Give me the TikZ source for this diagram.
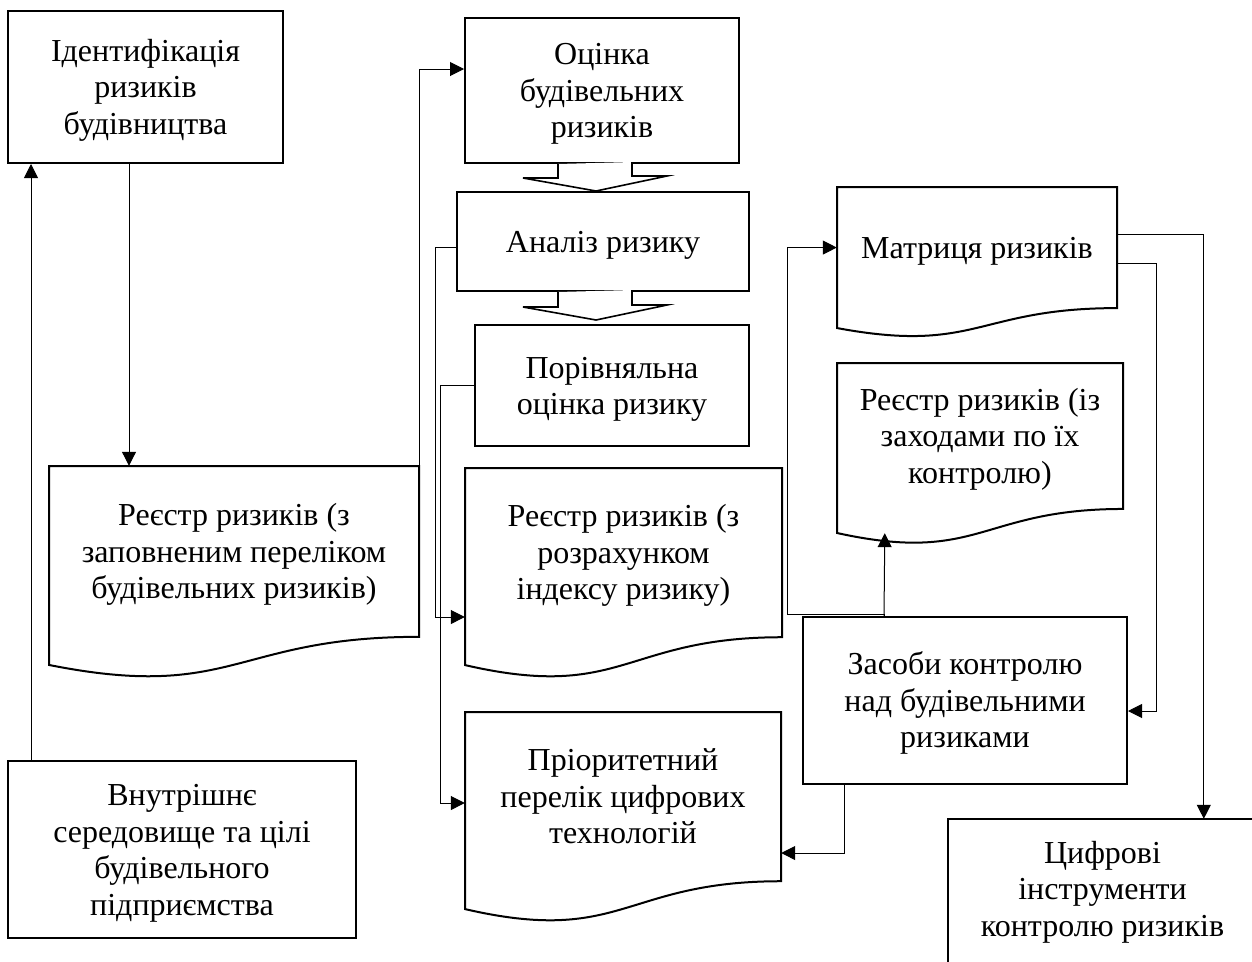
\documentclass[tikz,border=0pt]{standalone}
\usepackage{fontspec}
\setmainfont{Liberation Serif}
\usetikzlibrary{arrows.meta}
\newcommand\sT{\rule[-7pt]{0pt}{35.5pt}}
\newcommand\mydoc[6]{%
  \draw[boxline] (#2,#3) -- (#4,#3) -- (#4,{#3+0.802*#5})
    .. controls ({(#2+#4)/2},{#3+0.802*#5}) and ({(#2+#4)/2},{#3+1.107*#5}) .. (#2,{#3+0.934*#5}) -- cycle;
  \node[txt, minimum width={#4-#2}, minimum height={0.802*#5}] (#1) at ({(#2+#4)/2},{#3+0.401*#5}) {#6};
}
\begin{document}
\begin{tikzpicture}[x=1pt,y=-1pt,
  boxline/.style={line width=2pt, line join=miter},
  txt/.style={inner sep=0pt, align=center, font=\fontsize{32}{36.5}\selectfont},
  rect/.style={txt, draw, line width=2pt},
  conn/.style={line width=1pt, -{Triangle[length=14pt,width=14pt]}},
  plainline/.style={line width=1pt},
  hollow/.style={line width=1.6pt, fill=white, line join=miter}]
\clip (0,0) rectangle (1252,961);
\fill[white] (0,0) rectangle (1252,961);

% rectangles
\node[rect, minimum width=275, minimum height=152] (ident) at (145.5,87) {\sT Ідентифікація\\ризиків\\будівництва\sT};
\node[rect, minimum width=274, minimum height=145] (ocinka) at (602,90.5) {\sT Оцінка\\будівельних\\ризиків\sT};
\node[rect, minimum width=292, minimum height=99] (analiz) at (603,241.5) {\sT Аналіз ризику\sT};
\node[rect, minimum width=274, minimum height=121] (porivn) at (612,385.5) {\sT Порівняльна\\оцінка ризику\sT};
\node[rect, minimum width=348, minimum height=177] (vnutr) at (182,849.5) {\sT Внутрішнє\\середовище та цілі\\будівельного\\підприємства\sT};
\node[rect, minimum width=324, minimum height=167] (zasoby) at (965,700.5) {\sT Засоби контролю\\над будівельними\\ризиками\sT};
\node[txt, minimum width=309, minimum height=140] (cyfr) at (1102.5,889) {\sT Цифрові\\інструменти\\контролю ризиків\sT};
\draw[boxline] ([yshift=-20pt]cyfr.south west) -- (cyfr.north west) -- (cyfr.north east) -- ([yshift=-20pt]cyfr.south east);

% documents
\mydoc{reestr1}{49}{466}{419}{213}{\sT Реєстр ризиків (з\\заповненим переліком\\будівельних ризиків)\sT}
\mydoc{reestr2}{465}{468}{782}{211}{\sT Реєстр ризиків (з\\розрахунком\\індексу ризику)\sT}
\mydoc{priorit}{465}{712}{781}{211}{\sT Пріоритетний\\перелік цифрових\\технологій\sT}
\mydoc{matr}{837}{187}{1117}{151}{\sT Матриця ризиків\sT}
\mydoc{reestr3}{837}{363}{1123}{182}{\sT Реєстр ризиків (із\\заходами по їх\\контролю)\sT}

% hollow block arrows
\draw[hollow] ([xshift=-44pt]ocinka.south) -- ++(0,14) -- ++(-35,0) -- ([xshift=-7pt]analiz.north) -- ++(71,-15) -- ++(-35,0) -- ++(0,-14);
\draw[hollow] ([xshift=-45pt]analiz.south) -- ++(0,15) -- ++(-35,0) -- ([xshift=-16pt,yshift=4pt]porivn.north) -- ++(71,-15) -- ++(-35,0) -- ++(0,-15);

% connectors
\draw[conn] ([xshift=24pt]vnutr.north west) -- ([xshift=24pt]ident.south west);
\draw[conn] ([xshift=122pt]ident.south west) -- ([xshift=122pt]ident.south west |- reestr1.north);
\draw[conn] (reestr1.north east) |- ([yshift=21.5pt]ocinka.west);
\draw[conn] ([yshift=-5.5pt]analiz.west) -- ++(-21,0) |- ([yshift=-64.4pt]reestr2.west);
\draw[conn] (porivn.west) -- ++(-34,0) |- ([yshift=-6.4pt]priorit.west);
\draw[conn] ([xshift=42pt]zasoby.south west) |- ([yshift=-56.4pt]priorit.east);
\draw[conn] ([xshift=82pt]zasoby.north west) -- ([xshift=48pt,yshift=-24pt]reestr3.south west);
\draw[conn] ([xshift=82pt]zasoby.north west) -- ++(0,-2) -| ([xshift=-49pt]matr.west) -- (matr.west);
\draw[conn] ([yshift=13.5pt]matr.east) -| ([xshift=256pt]cyfr.north west);
\draw[conn] ([yshift=-15.5pt]matr.east) -- ++(39,0) |- ([yshift=-10.5pt]zasoby.east);
\end{tikzpicture}
\end{document}
